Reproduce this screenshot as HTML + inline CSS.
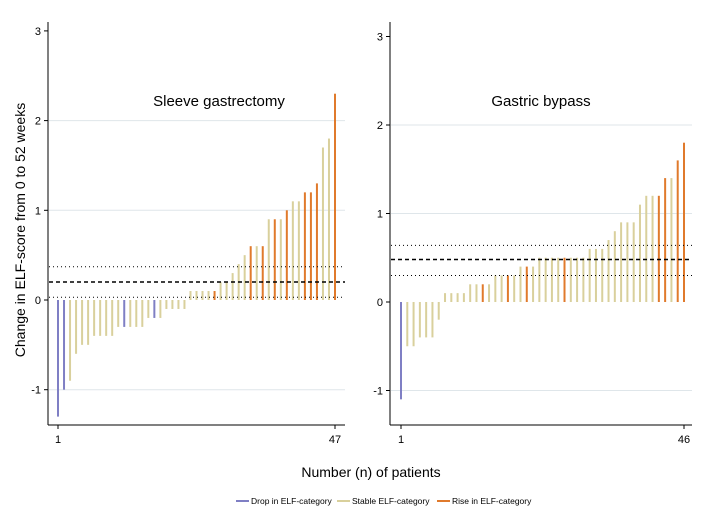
<!DOCTYPE html>
<html><head><meta charset="utf-8"><style>
body{margin:0;background:#fff;font-family:"Liberation Sans",Arial,sans-serif}
</style></head><body>
<svg id="chart" width="713" height="516" xmlns="http://www.w3.org/2000/svg" font-family="Liberation Sans, Arial, sans-serif">
</svg>
<script>
const leftValues=[-1.3,-1.0,-0.9,-0.6,-0.5,-0.5,-0.4,-0.4,-0.4,-0.4,-0.3,-0.3,-0.3,-0.3,-0.3,-0.2,-0.2,-0.2,-0.1,-0.1,-0.1,-0.1,0.1,0.1,0.1,0.1,0.1,0.2,0.2,0.3,0.4,0.5,0.6,0.6,0.6,0.9,0.9,0.9,1.0,1.1,1.1,1.2,1.2,1.3,1.7,1.8,2.3];
const leftCats=["d","d","s","s","s","s","s","s","s","s","s","d","s","s","s","s","d","s","s","s","s","s","s","s","s","s","r","s","s","s","s","s","r","s","r","s","r","s","r","s","s","r","r","r","s","s","r"];
const rightValues=[-1.1,-0.5,-0.5,-0.4,-0.4,-0.4,-0.2,0.1,0.1,0.1,0.1,0.2,0.2,0.2,0.2,0.3,0.3,0.3,0.3,0.4,0.4,0.4,0.5,0.5,0.5,0.5,0.5,0.5,0.5,0.5,0.6,0.6,0.6,0.7,0.8,0.9,0.9,0.9,1.1,1.2,1.2,1.2,1.4,1.4,1.6,1.8];
const rightCats=["d","s","s","s","s","s","s","s","s","s","s","s","s","r","s","s","s","r","s","s","r","s","s","s","s","s","r","s","s","s","s","s","s","s","s","s","s","s","s","s","s","r","r","s","r","r"];
const leftRefs=[0.37,0.2,0.03];
const rightRefs=[0.64,0.48,0.3];
const yTicks=[-1,0,1,2,3];
const colors={d:"#7f7fc4",s:"#d9d09c",r:"#e07a2c"};
const svg=document.getElementById('chart');
const NS="http://www.w3.org/2000/svg";
function mk(tag,attrs,parent){const e=document.createElementNS(NS,tag);for(const k in attrs)e.setAttribute(k,attrs[k]);(parent||svg).appendChild(e);return e;}
function panel(p){
  const g=mk('g',{});
  
  
  const y=v=>p.y0-v*p.sc;
  const x=i=>p.x1+(i)*(p.xn-p.x1)/(p.vals.length-1);
  yTicks.forEach(t=>{
    if(t!==3&&t!==0){const gl=mk('line',{x1:p.ax+1,x2:p.right,y1:y(t),y2:y(t),stroke:"#dfe6ea","stroke-width":1},g);
    }
    const tk=mk('line',{x1:p.ax-4,x2:p.ax,y1:y(t),y2:y(t),stroke:"#000"},g);
    
    const tx=mk('text',{x:p.ax-7,y:y(t)+4,"font-size":11,"text-anchor":"end"},g);tx.textContent=t;
    
  });
  p.vals.forEach((v,i)=>{
    const b=mk('rect',{x:x(i)-1,width:2,y:Math.min(y(v),y(0)),height:Math.abs(y(v)-y(0)),fill:colors[p.cats[i]]},g);
    
  });
  p.refs.forEach((r,k)=>{
    const l=mk('line',{x1:p.ax+1,x2:p.right,y1:y(r),y2:y(r),stroke:"#000","stroke-width":k==1?1.5:1,"stroke-dasharray":k==1?"4,3":"1,3"},g);
    
  });
  const a=mk('line',{x1:p.ax,x2:p.ax,y1:22,y2:425,stroke:"#000"},g);
  
  const bx=mk('line',{x1:p.ax,x2:p.right,y1:425,y2:425,stroke:"#000"},g);
  
  [[0,"1"],[p.vals.length-1,String(p.vals.length)]].forEach(([i,s])=>{
    const t=mk('line',{x1:x(i),x2:x(i),y1:425,y2:429,stroke:"#000"},g);
    
    const tx=mk('text',{x:x(i),y:443,"font-size":11,"text-anchor":"middle"},g);tx.textContent=s;
    
  });
  const tt=mk('text',{x:p.tx,y:106,"font-size":15,"text-anchor":"middle"},g);tt.textContent=p.title;
  
}
panel({name:'sleeve-panel',vals:leftValues,cats:leftCats,refs:leftRefs,ax:48,right:345,x1:58,xn:335,y0:300,sc:89.7,title:"Sleeve gastrectomy",tx:219});
panel({name:'bypass-panel',vals:rightValues,cats:rightCats,refs:rightRefs,ax:390,right:692,x1:401,xn:684,y0:302,sc:88.5,title:"Gastric bypass",tx:541});
let t=mk('text',{x:25,y:230,"font-size":14,"text-anchor":"middle",transform:"rotate(-90 25 230)"});t.textContent="Change in ELF-score from 0 to 52 weeks";

t=mk('text',{x:371,y:477,"font-size":14,"text-anchor":"middle"});t.textContent="Number (n) of patients";

[[236,"d","Drop in ELF-category"],[337,"s","Stable ELF-category"],[437,"r","Rise in ELF-category"]].forEach(([lx,c,s])=>{
  const g=mk('g',{});
  
  mk('line',{x1:lx,x2:lx+13,y1:501,y2:501,stroke:colors[c],"stroke-width":2},g);
  const tx=mk('text',{x:lx+15,y:504,"font-size":8.5},g);tx.textContent=s;
});
</script>
</body></html>
